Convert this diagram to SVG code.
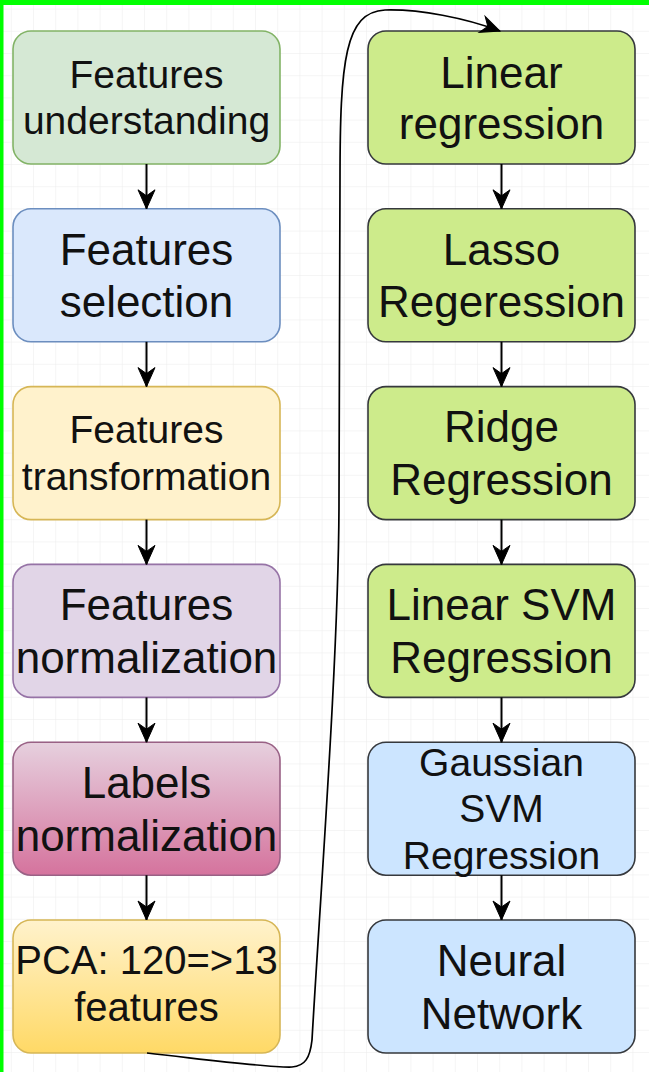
<svg xmlns="http://www.w3.org/2000/svg" width="649" height="1072" viewBox="0 0 649 1072">
<defs>
<pattern id="grid" x="10.8" y="8.6" width="22.2" height="22.2" patternUnits="userSpaceOnUse">
<path d="M0,0 H22.2 M0,0 V22.2" fill="none" stroke="#ebebeb" stroke-width="1"/>
</pattern>
<linearGradient id="gPink" x1="0" y1="0" x2="0" y2="1">
<stop offset="0" stop-color="#e6d0de"/>
<stop offset="1" stop-color="#d5739d"/>
</linearGradient>
<linearGradient id="gGold" x1="0" y1="0" x2="0" y2="1">
<stop offset="0" stop-color="#fff2cc"/>
<stop offset="1" stop-color="#ffd966"/>
</linearGradient>
<marker id="arr" markerUnits="userSpaceOnUse" markerWidth="24" markerHeight="24" viewBox="-22 -12 24 24" refX="0" refY="0" orient="auto">
<path d="M0,0 L-19,-8.5 L-13,0 L-19,8.5 Z" fill="#000" stroke="#000" stroke-width="1"/>
</marker>
</defs>
<style>
.box{stroke-width:1.6}
.t{font-family:"Liberation Sans",Arial,sans-serif;fill:#111;text-anchor:middle}
.edge{fill:none;stroke:#000;stroke-width:2}
</style>
<rect x="0" y="0" width="649" height="1072" fill="#ffffff"/>
<rect x="0" y="0" width="649" height="1072" fill="url(#grid)"/>
<rect x="0" y="0" width="649" height="5" fill="#00ff00"/>
<rect x="0" y="0" width="3.5" height="1072" fill="#00ff00"/>

<g id="n1"><rect class="box" x="13" y="31" width="267" height="133" rx="18" fill="#d5e8d4" stroke="#82b366"/>
<text class="t" x="146.5" font-size="39"><tspan x="146.5" y="88">Features</tspan><tspan x="146.5" y="134">understanding</tspan></text></g>

<g id="n2"><rect class="box" x="13" y="208.8" width="267" height="133" rx="18" fill="#dae8fc" stroke="#6c8ebf"/>
<text class="t" x="146.5" font-size="44"><tspan x="146.5" y="264.5">Features</tspan><tspan x="146.5" y="317.3">selection</tspan></text></g>

<g id="n3"><rect class="box" x="13" y="386.6" width="267" height="133" rx="18" fill="#fff2cc" stroke="#d6b656"/>
<text class="t" x="146.5" font-size="39"><tspan x="146.5" y="443">Features</tspan><tspan x="146.5" y="489.8">transformation</tspan></text></g>

<g id="n4"><rect class="box" x="13" y="564.4" width="267" height="133" rx="18" fill="#e1d5e7" stroke="#9673a6"/>
<text class="t" x="146.5" font-size="44"><tspan x="146.5" y="620">Features</tspan><tspan x="146.5" y="672.8">normalization</tspan></text></g>

<g id="n5"><rect class="box" x="13" y="742.2" width="267" height="133" rx="18" fill="url(#gPink)" stroke="#996185"/>
<text class="t" x="146.5" font-size="44"><tspan x="146.5" y="798">Labels</tspan><tspan x="146.5" y="850.8">normalization</tspan></text></g>

<g id="n6"><rect class="box" x="13" y="920" width="267" height="133" rx="18" fill="url(#gGold)" stroke="#d6b656"/>
<text class="t" x="146.5" font-size="40"><tspan x="146.5" y="974">PCA: 120=&gt;13</tspan><tspan x="146.5" y="1021">features</tspan></text></g>

<g id="m1"><rect class="box" x="368" y="31" width="267" height="133" rx="18" fill="#cdeb8b" stroke="#36393d"/>
<text class="t" x="501.5" font-size="44"><tspan x="501.5" y="87.5">Linear</tspan><tspan x="501.5" y="139">regression</tspan></text></g>

<g id="m2"><rect class="box" x="368" y="208.8" width="267" height="133" rx="18" fill="#cdeb8b" stroke="#36393d"/>
<text class="t" x="501.5" font-size="44"><tspan x="501.5" y="264.5">Lasso</tspan><tspan x="501.5" y="317.3">Regeression</tspan></text></g>

<g id="m3"><rect class="box" x="368" y="386.6" width="267" height="133" rx="18" fill="#cdeb8b" stroke="#36393d"/>
<text class="t" x="501.5" font-size="44"><tspan x="501.5" y="442">Ridge</tspan><tspan x="501.5" y="494.8">Regression</tspan></text></g>

<g id="m4"><rect class="box" x="368" y="564.4" width="267" height="133" rx="18" fill="#cdeb8b" stroke="#36393d"/>
<text class="t" x="501.5" font-size="44"><tspan x="501.5" y="620">Linear SVM</tspan><tspan x="501.5" y="672.8">Regression</tspan></text></g>

<g id="m5"><rect class="box" x="368" y="742.2" width="267" height="133" rx="18" fill="#cce5ff" stroke="#36393d"/>
<text class="t" x="501.5" font-size="39"><tspan x="501.5" y="775.5">Gaussian</tspan><tspan x="501.5" y="822.3">SVM</tspan><tspan x="501.5" y="869.1">Regression</tspan></text></g>

<g id="m6"><rect class="box" x="368" y="920" width="267" height="133" rx="18" fill="#cce5ff" stroke="#36393d"/>
<text class="t" x="501.5" font-size="44"><tspan x="501.5" y="976">Neural</tspan><tspan x="501.5" y="1028.8">Network</tspan></text></g>

<g id="connectors">
<path class="edge" d="M146.5,164 V208.8" marker-end="url(#arr)"/>
<path class="edge" d="M146.5,341.8 V386.6" marker-end="url(#arr)"/>
<path class="edge" d="M146.5,519.6 V564.4" marker-end="url(#arr)"/>
<path class="edge" d="M146.5,697.4 V742.2" marker-end="url(#arr)"/>
<path class="edge" d="M146.5,875.2 V920" marker-end="url(#arr)"/>
<path class="edge" d="M501.5,164 V208.8" marker-end="url(#arr)"/>
<path class="edge" d="M501.5,341.8 V386.6" marker-end="url(#arr)"/>
<path class="edge" d="M501.5,519.6 V564.4" marker-end="url(#arr)"/>
<path class="edge" d="M501.5,697.4 V742.2" marker-end="url(#arr)"/>
<path class="edge" d="M501.5,875.2 V920" marker-end="url(#arr)"/>
<path class="edge" style="stroke-width:1.7" d="M147,1053 C210,1060 270,1068 292,1067 C305,1066 310,1058 312,1040 C320,900 339,650 339,500 L340,180 C340,60 345,12 385,10 C420,9 465,18 500,31" marker-end="url(#arr)"/>
</g>
</svg>
